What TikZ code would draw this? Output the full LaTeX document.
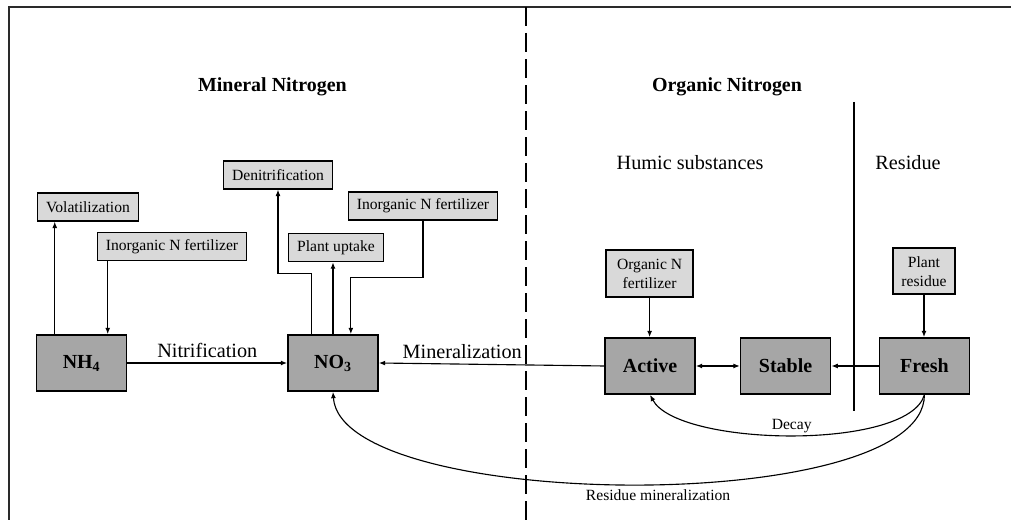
\documentclass[tikz,border=0pt]{standalone}
\usepackage{fontspec}
\setmainfont{Liberation Serif}
\usepackage{xcolor}
\usepackage{tikz}
\usetikzlibrary{arrows.meta}
\definecolor{boxdark}{HTML}{A6A6A6}
\definecolor{boxlight}{HTML}{D9D9D9}
\definecolor{framegray}{HTML}{2A2A2A}

\begin{document}
\begin{tikzpicture}[
  bigbox/.style={draw,line width=1.2pt,fill=boxdark,minimum width=2.25cm,minimum height=1.4cm,font=\fontsize{14.2}{16}\selectfont\bfseries},
  smallbox/.style={draw,line width=1pt,fill=boxlight,minimum height=0.7cm,inner xsep=6pt,font=\fontsize{11.1}{13.5}\selectfont},
  arr/.style={line width=0.8pt,-{Latex[length=4.5pt,width=3.5pt]}},
  headtext/.style={font=\fontsize{14.2}{16}\selectfont\bfseries},
  bigtext/.style={font=\fontsize{14.4}{16}\selectfont},
  smalltext/.style={font=\fontsize{11.1}{13}\selectfont}]
\useasboundingbox (0,0) rectangle (25.275,13);

% frame and dividers
\draw[framegray,line width=1.4pt](0.225,0)--(0.225,12.825)--(25.275,12.825);
\draw[line width=1.4pt,dash pattern=on 13.5pt off 5pt](13.15,12.825)--(13.15,0);
\draw[line width=0.8pt](21.35,10.45)--(21.35,2.725);

% headings
\node[headtext](MinT)at(6.81,10.825){Mineral Nitrogen};
\node[headtext](OrgT)at(18.175,10.825){Organic Nitrogen};
\node[bigtext](HumT)at(17.25,8.925){Humic substances};
\node[bigtext](ResT)at(22.7,8.925){Residue};

% pools
\node[bigbox](NH)at(2.04,3.925){NH\textsubscript{4}};
\node[bigbox](NO)at(8.325,3.925){NO\textsubscript{3}};
\node[bigbox](AC)at(16.25,3.85){Active};
\node[bigbox](ST)at(19.64,3.85){Stable};
\node[bigbox](FR)at(23.11,3.85){Fresh};

% inputs and losses
\node[smallbox](VO)at(2.2,7.825){Volatilization};
\node[smallbox](IF1)at(4.3,6.84){Inorganic N fertilizer};
\node[smallbox](DN)at(6.95,8.625){Denitrification};
\node[smallbox](PU)at(8.4,6.81){Plant uptake};
\node[smallbox](IF2)at(10.575,7.85){Inorganic N fertilizer};
\node[smallbox,align=center,minimum width=2.175cm,minimum height=1.175cm](OF)at(16.24,6.16){Organic N\\fertilizer};
\node[smallbox,align=center,minimum height=1.15cm](PR)at(23.1,6.22){Plant\\residue};

\coordinate(v1)at([xshift=0.475cm]NH.north west);
\draw[arr](v1)--(v1|-VO.south);
\coordinate(f1)at([xshift=0.275cm]IF1.south west);
\draw[arr](f1)--(f1|-NH.north);
\draw[arr](NH)--node[above,bigtext]{Nitrification}(NO);

\coordinate(d1)at([xshift=0.6cm]NO.north west);
\draw[arr](d1)--++(0,1.525)-|(DN.south);
\draw[arr](NO.north)--(NO.north|-PU.south);
\coordinate(f2)at([xshift=-0.7cm]NO.north east);
\draw[arr](IF2.south)--++(0,-1.425)-|(f2);
\draw[arr](AC.west)--node[above,pos=0.63,bigtext]{Mineralization}(NO.east);

\draw[line width=0.8pt,{Latex[length=4.5pt,width=3.5pt]}-{Latex[length=4.5pt,width=3.5pt]}](AC)--(ST);
\draw[arr](FR)--(ST);
\draw[arr](OF.south)--(OF.south|-AC.north);
\draw[arr](PR.south)--(PR.south|-FR.north);

\draw[arr](FR.south)..controls+(-0.4,-1.4)and+(0.7,-1.3)..node[above,inner sep=1pt,smalltext]{Decay}(AC.south);
\draw[arr](FR.south)..controls+(0,-3.07)and+(0.2,-3.0)..node[below,pos=0.47,smalltext]{Residue mineralization}(NO.south);

\end{tikzpicture}
\end{document}
